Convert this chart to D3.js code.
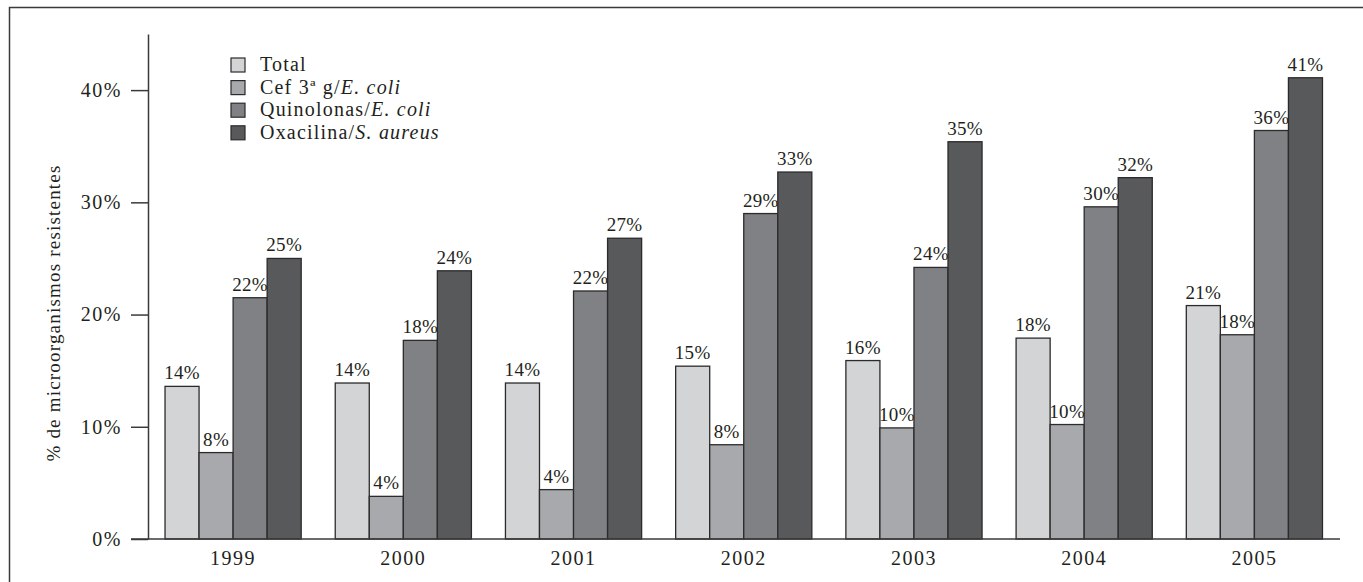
<!DOCTYPE html>
<html>
<head>
<meta charset="utf-8">
<script src="https://cdn.jsdelivr.net/npm/d3@7"></script>
<style>
  html, body { margin: 0; padding: 0; background: #fff; }
  svg { display: block; }
  text { font-family: "Liberation Serif", "Times New Roman", serif; fill: #231f20; }
</style>
</head>
<body>
<svg id="svg1" width="1363" height="582"></svg>
<script>
var years = ['1999', '2000', '2001', '2002', '2003', '2004', '2005'];
var seriesNames = ['total', 'cef', 'quin', 'oxa'];
var total = [13.6, 13.9, 13.9, 15.4, 15.9, 17.9, 20.8];
var cef = [7.7, 3.8, 4.4, 8.4, 9.9, 10.2, 18.2];
var quin = [21.5, 17.7, 22.1, 29.0, 24.2, 29.6, 36.4];
var oxa = [25.0, 23.9, 26.8, 32.7, 35.4, 32.2, 41.1];
var yTicks = [0, 10, 20, 30, 40];

var colors = {total: '#d3d4d6', cef: '#a8a9ac', quin: '#808184', oxa: '#58595b'};
var values = {total: total, cef: cef, quin: quin, oxa: oxa};

var svg = d3.select('#svg1');

// outer frame (cut off at right and bottom in the original)
svg.append('rect')
    .attr('x', 9.5).attr('y', 7.5)
    .attr('width', 1400).attr('height', 640)
    .attr('fill', 'none')
    .attr('stroke', '#3a3a3a')
    .attr('stroke-width', 1.5);

var x = d3.scaleBand()
    .domain(years)
    .range([148, 1339.5])
    .paddingInner(0.2)
    .paddingOuter(0.1);

var xs = d3.scaleBand()
    .domain(seriesNames)
    .range([0, x.bandwidth()]);

var y = d3.scaleLinear()
    .domain([0, 45])
    .range([539, 34]);

// flatten for drawing
var rows = [];
years.forEach(function (yr, i) {
    seriesNames.forEach(function (s) {
        rows.push({year: yr, key: s, v: values[s][i]});
    });
});

var g = svg.append('g');

// labels first, so neighbouring bars hide any overflow
g.selectAll('text.lbl')
    .data(rows)
    .enter()
    .append('text')
    .attr('class', 'lbl')
    .attr('x', function (d) { return x(d.year) + xs(d.key) + xs.bandwidth() / 2; })
    .attr('y', function (d) { return y(d.v) - 7; })
    .attr('text-anchor', 'middle')
    .attr('font-size', 19)
    .attr('letter-spacing', 0.3)
    .text(function (d) { return Math.round(d.v) + '%'; });

g.selectAll('rect.bar')
    .data(rows)
    .enter()
    .append('rect')
    .attr('class', 'bar')
    .attr('x', function (d) { return x(d.year) + xs(d.key); })
    .attr('y', function (d) { return y(d.v); })
    .attr('width', xs.bandwidth())
    .attr('height', function (d) { return y(0) - y(d.v); })
    .attr('fill', function (d) { return colors[d.key]; })
    .attr('stroke', '#2b2b2b')
    .attr('stroke-width', 1.3);

// y axis
var yAxis = svg.append('g')
    .attr('transform', 'translate(148,0)')
    .call(d3.axisLeft(y)
        .tickValues(yTicks)
        .tickSize(17)
        .tickSizeOuter(0)
        .tickPadding(9)
        .tickFormat(function (d) { return d + '%'; }));
yAxis.selectAll('path, line').attr('stroke', '#3a3a3a').attr('stroke-width', 1.5);
yAxis.selectAll('text')
    .attr('font-family', '"Liberation Serif", serif')
    .attr('font-size', 20)
    .attr('letter-spacing', 1.5)
    .attr('fill', '#231f20');

// x axis
svg.append('line')
    .attr('x1', 131).attr('x2', 1340)
    .attr('y1', y(0)).attr('y2', y(0))
    .attr('stroke', '#3a3a3a').attr('stroke-width', 1.5);

var xAxis = svg.append('g')
    .attr('transform', 'translate(0,' + y(0) + ')')
    .call(d3.axisBottom(x).tickSize(0).tickPadding(12));
xAxis.select('.domain').remove();
xAxis.selectAll('text')
    .attr('font-family', '"Liberation Serif", serif')
    .attr('font-size', 20)
    .attr('letter-spacing', 1.5)
    .attr('fill', '#231f20');

// y axis title
svg.append('text')
    .attr('transform', 'translate(60,313) rotate(-90)')
    .attr('text-anchor', 'middle')
    .attr('font-size', 19)
    .attr('letter-spacing', 1.2)
    .text('% de microorganismos resistentes');

// legend
var legendItems = [
    {key: 'total', plain: 'Total', ital: ''},
    {key: 'cef', plain: 'Cef 3ª g/', ital: 'E. coli'},
    {key: 'quin', plain: 'Quinolonas/', ital: 'E. coli'},
    {key: 'oxa', plain: 'Oxacilina/', ital: 'S. aureus'}
];

var legend = svg.append('g');
var leg = legend.selectAll('g')
    .data(legendItems)
    .enter()
    .append('g')
    .attr('transform', function (d, i) { return 'translate(231,' + (58 + i * 22.6) + ')'; });

leg.append('rect')
    .attr('width', 14).attr('height', 14)
    .attr('fill', function (d) { return colors[d.key]; })
    .attr('stroke', '#2b2b2b')
    .attr('stroke-width', 1.2);

var lt = leg.append('text')
    .attr('x', 29).attr('y', 13)
    .attr('font-size', 20)
    .attr('letter-spacing', 1.2);
lt.append('tspan').text(function (d) { return d.plain; });
lt.append('tspan').attr('font-style', 'italic').text(function (d) { return d.ital; });
</script>
</body>
</html>
